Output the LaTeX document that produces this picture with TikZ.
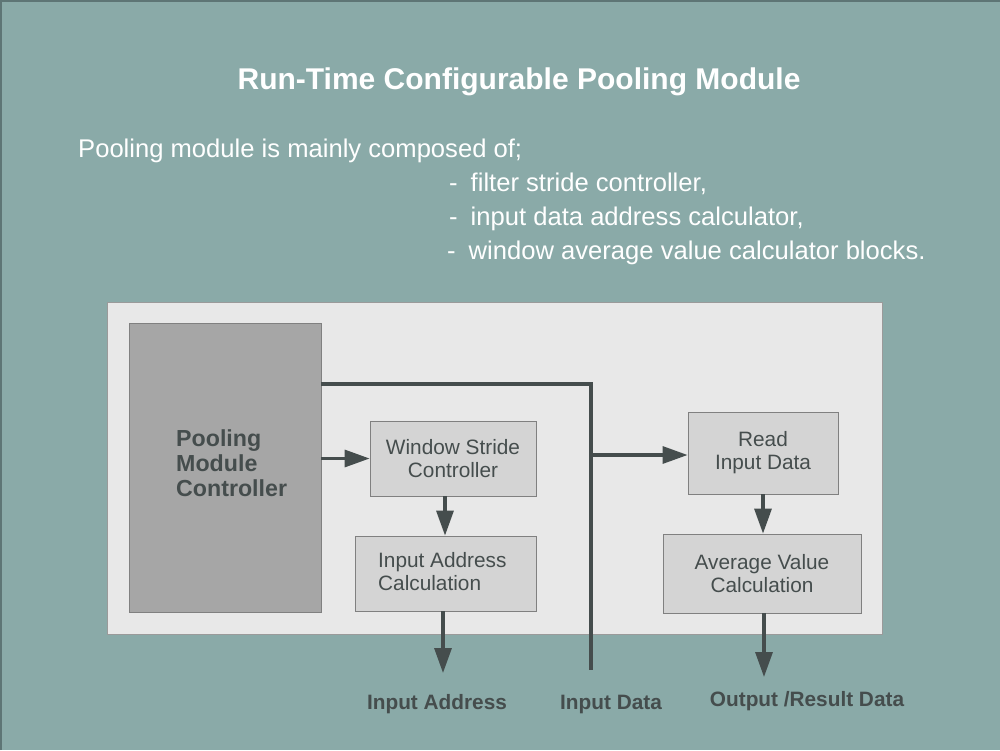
\documentclass[tikz,border=0pt]{standalone}
\usepackage{fontspec}
\setmainfont{Liberation Sans}
\usetikzlibrary{arrows.meta}
\definecolor{bgteal}{HTML}{8AAAA8}
\definecolor{bgedge}{HTML}{5E7575}
\definecolor{panel}{HTML}{E8E8E8}
\definecolor{paneledge}{HTML}{9A9A9A}
\definecolor{ctrl}{HTML}{A6A6A6}
\definecolor{blockfill}{HTML}{D4D4D4}
\definecolor{blockedge}{HTML}{808080}
\definecolor{ink}{HTML}{454D4D}
\tikzset{
  block/.style={draw=blockedge, fill=blockfill, line width=0.8pt, inner sep=0pt,
    text=ink, font=\fontsize{20.8}{23}\selectfont, align=center},
  wire/.style={draw=ink, line width=3.2pt},
  arr/.style={wire, -{Triangle[length=25pt,width=17pt]}},
  outlabel/.style={text=ink, font=\bfseries\fontsize{20.8}{23}\selectfont, anchor=base},
  whitetext/.style={text=white, font=\fontsize{25.6}{29}\selectfont, anchor=base west, inner sep=0pt},
}
\begin{document}
\begin{tikzpicture}[x=1pt,y=-1pt]
\useasboundingbox (0,0) rectangle (1000,750);
\fill[bgteal] (0,0) rectangle (1000,750);
\draw[bgedge, line width=1.5pt] (0.75,750) -- (0.75,0.75) -- (1000,0.75);
% title and text
\node[text=white, font=\bfseries\fontsize{30}{34}\selectfont, anchor=base] (title) at (519,89) {Run-Time Configurable Pooling Module};
\node[whitetext] (intro) at (78,157) {Pooling module is mainly composed of;};
\node[whitetext] (b1) at (449,191) {-\hspace{13pt}filter stride controller,};
\node[whitetext] (b2) at (449,225) {-\hspace{13pt}input data address calculator,};
\node[whitetext] (b3) at (447,259) {-\hspace{13pt}window average value calculator blocks.};
% panel
\draw[paneledge, fill=panel, line width=1pt] (107,302) rectangle (882,634);
% controller
\node[draw=blockedge, fill=ctrl, line width=0.8pt, minimum width=192pt, minimum height=289pt, inner sep=0pt] (pmc) at (225,467.5) {};
\node[text=ink, font=\bfseries\fontsize{23.2}{25}\selectfont, align=left, anchor=west, inner sep=0pt] (pmclabel) at (176,463) {Pooling\\Module\\Controller};
% blocks
\node[block, minimum width=166pt, minimum height=75pt] (wsc) at (453,458.5) {Window Stride\\Controller};
\node[block, minimum width=181pt, minimum height=75pt] (iac) at (445.5,573.5) {};
\node[text=ink, font=\fontsize{20.8}{23}\selectfont, align=left, anchor=west, inner sep=0pt] (iaclabel) at (378,572) {Input Address\\Calculation};
\node[block, minimum width=150pt, minimum height=82pt] (rid) at (763,453) {Read\\Input Data};
\node[block, minimum width=198pt, minimum height=79pt] (avc) at (762,573.5) {Average Value\\Calculation};
% coordinates
\coordinate (c1) at (321,384);
\coordinate (c2) at (591,384);
\coordinate (c3) at (591,670);
\coordinate (c4) at (591,455);
\coordinate (e1) at (443,673);
\coordinate (e2) at (764,677);
% wires
\draw[wire] (c1) -- (c2) -- (c3);
\draw[arr] (c4) -- (c4 -| rid.west);
\draw[arr] (pmc.east |- wsc.west) -- (wsc.west);
\draw[arr] (wsc.south -| 445,0) -- (iac.north -| 445,0);
\draw[arr] (iac.south -| e1) -- (e1);
\draw[arr] (rid.south) -- (avc.north -| rid.south);
\draw[arr] (avc.south -| e2) -- (e2);
% output labels
\node[outlabel] (lia) at (437,709) {Input Address};
\node[outlabel] (lid) at (611,709) {Input Data};
\node[outlabel] (lor) at (807,706) {Output /Result Data};
\end{tikzpicture}
\end{document}
